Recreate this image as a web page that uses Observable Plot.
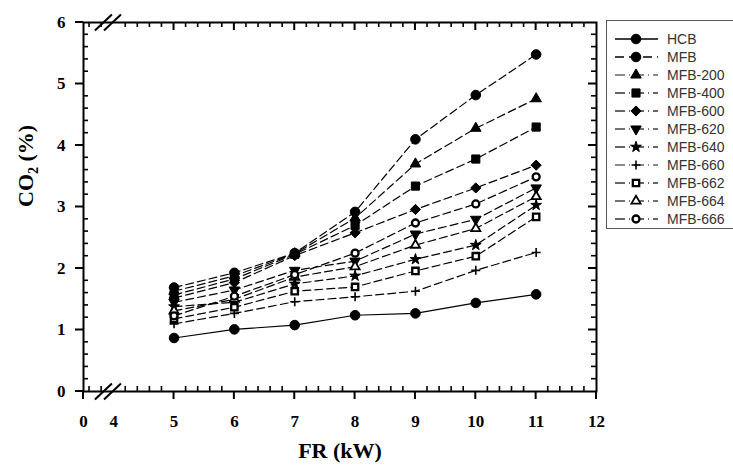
<!DOCTYPE html>
<html><head><meta charset="utf-8">
<script src="https://cdn.jsdelivr.net/npm/d3@7"></script>
<script src="https://cdn.jsdelivr.net/npm/@observablehq/plot@0.6"></script>
<style>body{margin:0;background:#fff}</style>
</head><body><div id="chart"></div>
<script>
// ---- data ----
const fr = [5, 6, 7, 8, 9, 10, 11];
const seriesNames = ["HCB","MFB","MFB-200","MFB-400","MFB-600","MFB-620","MFB-640","MFB-660","MFB-662","MFB-664","MFB-666"];
const HCB    = [0.87, 1.01, 1.08, 1.24, 1.27, 1.44, 1.58];
const MFB    = [1.69, 1.93, 2.25, 2.92, 4.10, 4.82, 5.48];
const MFB200 = [1.63, 1.88, 2.24, 2.82, 3.70, 4.28, 4.76];
const MFB400 = [1.57, 1.83, 2.23, 2.70, 3.34, 3.78, 4.30];
const MFB600 = [1.52, 1.77, 2.21, 2.58, 2.96, 3.31, 3.68];
const MFB620 = [1.45, 1.65, 1.97, 2.12, 2.56, 2.80, 3.31];
const MFB640 = [1.38, 1.45, 1.75, 1.88, 2.15, 2.38, 3.03];
const MFB660 = [1.10, 1.27, 1.46, 1.54, 1.63, 1.97, 2.26];
const MFB662 = [1.18, 1.37, 1.63, 1.70, 1.96, 2.20, 2.84];
const MFB664 = [1.31, 1.50, 1.86, 2.03, 2.38, 2.65, 3.17];
const MFB666 = [1.23, 1.55, 1.90, 2.25, 2.74, 3.05, 3.49];
const values = [HCB, MFB, MFB200, MFB400, MFB600, MFB620, MFB640, MFB660, MFB662, MFB664, MFB666];

const xBreakZero = 3.5;               // position of the "0" label on the broken axis
const xLabelTicks = [3.5, 4, 5, 6, 7, 8, 9, 10, 11, 12];
const xMajorTicks = [5, 6, 7, 8, 9, 10, 11];
const yTicks = [0, 1, 2, 3, 4, 5, 6];

// ---- symbols ----
const triangleDown = {draw(ctx, size) {
  const y = -Math.sqrt(size / (Math.sqrt(3) * 3));
  ctx.moveTo(0, -y * 2); ctx.lineTo(-Math.sqrt(3) * y, y); ctx.lineTo(Math.sqrt(3) * y, y); ctx.closePath();
}};
const styles = [
  {sym: d3.symbolCircle, r: 4.8, fill: "black", sw: 1, dash: null, legendStroke: "black"},
  {sym: d3.symbolCircle, r: 4.8, fill: "black", sw: 1, dash: "8,4", legendStroke: "black"},
  {sym: d3.symbolTriangle, r: 3.9, fill: "black", sw: 1, dash: "8,4", legendStroke: "#666"},
  {sym: d3.symbolSquare, r: 4.6, fill: "black", sw: 1, dash: "8,4", legendStroke: "#333"},
  {sym: d3.symbolDiamond2, r: 4.6, fill: "black", sw: 1, dash: "8,4", legendStroke: "#333"},
  {sym: triangleDown, r: 3.9, fill: "black", sw: 1, dash: "8,4", legendStroke: "#444"},
  {sym: d3.symbolStar, r: 3.4, fill: "black", sw: 1, dash: "8,4", legendStroke: "#333"},
  {sym: d3.symbolPlus, r: 3.0, fill: "none", sw: 1.6, dash: "8,4", legendStroke: "#666"},
  {sym: d3.symbolSquare, r: 3.6, fill: "white", sw: 2.3, dash: "8,4", legendStroke: "#333"},
  {sym: d3.symbolTriangle, r: 3.4, fill: "white", sw: 1.8, dash: "8,4", legendStroke: "#444"},
  {sym: d3.symbolCircle, r: 3.5, fill: "white", sw: 2.3, dash: "8,4", legendStroke: "#333"}
];

const rows = seriesNames.map((name, i) => fr.map((x, j) => ({series: name, x, y: values[i][j]})));

const W = 733, H = 468, mL = 83, mR = 137, mT = 22, mB = 77;
const yPx = 6 / (H - mT - mB);                 // data units per pixel (y)
const xPx = (12 - xBreakZero) / (W - mL - mR); // data units per pixel (x)

const xMinor = d3.range(3.6, 12, 0.2).map(v => +v.toFixed(1)).filter(v => Math.abs(v - Math.round(v)) > 0.01);
const yMinor = d3.range(0.2, 6, 0.2).map(v => +v.toFixed(1)).filter(v => Math.abs(v - Math.round(v)) > 0.01);
const breaks = [3.83, 3.98];

const serif = "'Liberation Serif', 'Times New Roman', serif";
const marks = [];
rows.forEach((d, i) => marks.push(Plot.line(d, {x: "x", y: "y", stroke: "black", strokeWidth: 1.2, strokeDasharray: styles[i].dash})));
rows.forEach((d, i) => marks.push(Plot.dot(d, {x: "x", y: "y", symbol: styles[i].sym, r: styles[i].r, fill: styles[i].fill, stroke: "black", strokeWidth: styles[i].sw})));
marks.push(Plot.frame({stroke: "black", strokeWidth: 2}));
// break marks
[0, 6].forEach(yb => marks.push(Plot.link(breaks, {x1: d => d - 8.5 * xPx, x2: d => d + 8.5 * xPx, y1: () => yb - 8 * yPx, y2: () => yb + 8 * yPx, stroke: "black", strokeWidth: 2})));
// tick labels
marks.push(Plot.text(xLabelTicks, {x: d => d, y: () => 0, dy: 30, text: d => d === xBreakZero ? "0" : String(d), fontSize: 17, fontWeight: "bold", fontFamily: serif, fill: "black"}));
marks.push(Plot.text(yTicks, {y: d => d, x: () => xBreakZero, dx: -18, textAnchor: "end", text: d => String(d), fontSize: 17, fontWeight: "bold", fontFamily: serif, fill: "black"}));
// axis titles
marks.push(Plot.text(["CO2 (%)"], {frameAnchor: "left", dx: -58, rotate: -90, fontSize: 22, fontWeight: "bold", fontFamily: serif, fill: "black"}));
marks.push(Plot.text(["FR (kW)"], {frameAnchor: "bottom", dy: 66, fontSize: 22, fontWeight: "bold", fontFamily: serif, fill: "black"}));

const plot = Plot.plot({
  width: W, height: H, marginLeft: mL, marginRight: mR, marginTop: mT, marginBottom: mB,
  x: {domain: [xBreakZero, 12], axis: null}, y: {domain: [0, 6], axis: null},
  marks
});
document.getElementById("chart").appendChild(plot);

const svg = d3.select(plot);
svg.selectAll("text").filter(function() { return this.textContent === "CO2 (%)"; })
  .html('CO<tspan dy="5" font-size="14">2</tspan><tspan dy="-5"> (%)</tspan>');

// axis ticks, positioned with Plot's own scales
const sx = plot.scale("x"), sy = plot.scale("y");
const X = v => sx.apply(v), Y = v => sy.apply(v);
const tg = svg.append("g").attr("stroke", "black");
const vt = (data, yv, len, w) => data.forEach(v => tg.append("line")
  .attr("x1", X(v)).attr("x2", X(v)).attr("y1", Y(yv)).attr("y2", Y(yv) + len).attr("stroke-width", w));
const ht = (data, xv, len, w) => data.forEach(v => tg.append("line")
  .attr("y1", Y(v)).attr("y2", Y(v)).attr("x1", X(xv)).attr("x2", X(xv) + len).attr("stroke-width", w));
vt([xBreakZero, ...xMajorTicks, 12], 0, 8, 2);   // bottom majors, outward
vt(xMinor, 0, -5, 1.6);                          // bottom minors, inward
vt(xMajorTicks, 6, 8, 2);                        // top majors, inward
vt(xMinor, 6, 5, 1.6);                           // top minors, inward
ht(yTicks, xBreakZero, -8, 2);                   // left majors, outward
ht(yMinor, xBreakZero, 5, 1.6);                  // left minors, inward
ht(yTicks.slice(1, -1), 12, -8, 2);              // right majors, inward
ht(yMinor, 12, -5, 1.6);                         // right minors, inward

// legend
const lg = svg.append("g").attr("font-family", "'Liberation Sans', Arial, sans-serif").attr("text-anchor", "start");
lg.append("rect").attr("x", 606.5).attr("y", 20.5).attr("width", 132).attr("height", 208)
  .attr("fill", "white").attr("stroke", "#555").attr("stroke-width", 1);
seriesNames.forEach((name, i) => {
  const s = styles[i];
  const cy = 39 + i * 18;
  lg.append("line").attr("x1", 615).attr("x2", 658).attr("y1", cy).attr("y2", cy)
    .attr("stroke", s.legendStroke).attr("stroke-width", 1.5)
    .attr("stroke-dasharray", i === 0 ? null : (i === 1 ? "9,5" : "10,4,1,4"));
  lg.append("path").attr("transform", `translate(636,${cy})`)
    .attr("d", d3.symbol(s.sym, Math.PI * s.r * s.r)())
    .attr("fill", s.fill).attr("stroke", "black").attr("stroke-width", s.sw);
  lg.append("text").attr("x", 667).attr("y", cy).attr("dy", "0.36em")
    .attr("font-size", 14).attr("fill", "#333").attr("text-anchor", "start").text(name);
});
</script>
</body></html>
